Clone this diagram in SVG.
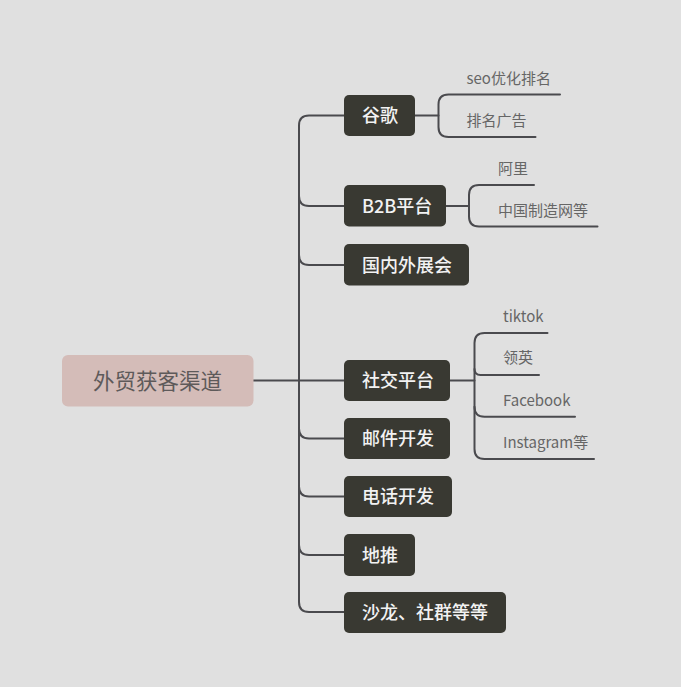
<svg xmlns="http://www.w3.org/2000/svg" width="681" height="687" viewBox="0 0 681 687">
<style>
.bg{fill:#e0e0e0}
.ln{fill:none;stroke:#4a4a4e;stroke-width:2;stroke-linecap:round}
.nd{fill:#393932}
.nt{font-family:"Noto Sans CJK SC","Noto Sans",sans-serif;font-size:18px;font-weight:500;fill:#f2f2f2;dominant-baseline:central}
.lf{font-family:"Noto Sans CJK SC","Noto Sans",sans-serif;font-size:15px;fill:#666666;dominant-baseline:central}
.rt{font-family:"Noto Sans CJK SC","Noto Sans",sans-serif;font-size:21.5px;fill:#5e5a5a;dominant-baseline:central;text-anchor:middle}
</style>
<rect class="bg" x="0" y="0" width="681" height="687"/>
<g id="connectors">
<path class="ln" d="M253 380.5 H344"/>
<path class="ln" d="M344 115.5 H309 Q299 115.5 299 125.5 V602 Q299 612 309 612 H344"/>
<path class="ln" d="M299 196 Q299 206 309 206 H344"/>
<path class="ln" d="M299 255 Q299 265 309 265 H344"/>
<path class="ln" d="M299 428.5 Q299 438.5 309 438.5 H344"/>
<path class="ln" d="M299 486.5 Q299 496.5 309 496.5 H344"/>
<path class="ln" d="M299 545 Q299 555 309 555 H344"/>
<path class="ln" d="M415 115.5 H438.5"/>
<path class="ln" d="M560 94.5 H448.5 Q438.5 94.5 438.5 104.5 V127 Q438.5 137 448.5 137 H535.5"/>
<path class="ln" d="M446 206 H469"/>
<path class="ln" d="M534 185 H479 Q469 185 469 195 V216.5 Q469 226.5 479 226.5 H597.5"/>
<path class="ln" d="M450 380.5 H474.5"/>
<path class="ln" d="M547.5 333 H484.5 Q474.5 333 474.5 343 V449 Q474.5 459 484.5 459 H594"/>
<path class="ln" d="M474.5 369 Q474.5 375 480.5 375 H539"/>
<path class="ln" d="M474.5 406.7 Q474.5 416.7 484.5 416.7 H575"/>
</g>
<g id="root">
<rect x="62" y="355" width="191.5" height="51.5" rx="6" fill="#d4bcb8"/>
<text class="rt" x="157.5" y="379">外贸获客渠道</text>
</g>
<g id="n-google">
<rect class="nd" x="344" y="95" width="71" height="41" rx="5"/>
<text class="nt" x="362" y="114">谷歌</text>
</g>
<g id="l-seo"><text class="lf" x="466.5" y="77">seo优化排名</text></g>
<g id="l-ads"><text class="lf" x="466.5" y="119">排名广告</text></g>
<g id="n-b2b">
<rect class="nd" x="344" y="185" width="102" height="41.5" rx="5"/>
<text class="nt" x="362" y="204.5">B2B平台</text>
</g>
<g id="l-ali"><text class="lf" x="498" y="167">阿里</text></g>
<g id="l-mic"><text class="lf" x="498" y="209">中国制造网等</text></g>
<g id="n-expo">
<rect class="nd" x="344" y="244" width="125" height="41.5" rx="5"/>
<text class="nt" x="362" y="263.5">国内外展会</text>
</g>
<g id="n-social">
<rect class="nd" x="344" y="360" width="106" height="41" rx="5"/>
<text class="nt" x="362" y="379">社交平台</text>
</g>
<g id="l-tiktok"><text class="lf" x="503" y="315">tiktok</text></g>
<g id="l-linkedin"><text class="lf" x="503" y="356.5">领英</text></g>
<g id="l-facebook"><text class="lf" x="503" y="399">Facebook</text></g>
<g id="l-instagram"><text class="lf" x="503" y="441">Instagram等</text></g>
<g id="n-email">
<rect class="nd" x="344" y="418" width="106" height="41" rx="5"/>
<text class="nt" x="362" y="437">邮件开发</text>
</g>
<g id="n-phone">
<rect class="nd" x="344" y="476" width="108" height="41" rx="5"/>
<text class="nt" x="362" y="495">电话开发</text>
</g>
<g id="n-ground">
<rect class="nd" x="344" y="534" width="71" height="42" rx="5"/>
<text class="nt" x="362" y="553.5">地推</text>
</g>
<g id="n-salon">
<rect class="nd" x="344" y="592" width="162" height="41" rx="5"/>
<text class="nt" x="362" y="611">沙龙、社群等等</text>
</g>
</svg>
